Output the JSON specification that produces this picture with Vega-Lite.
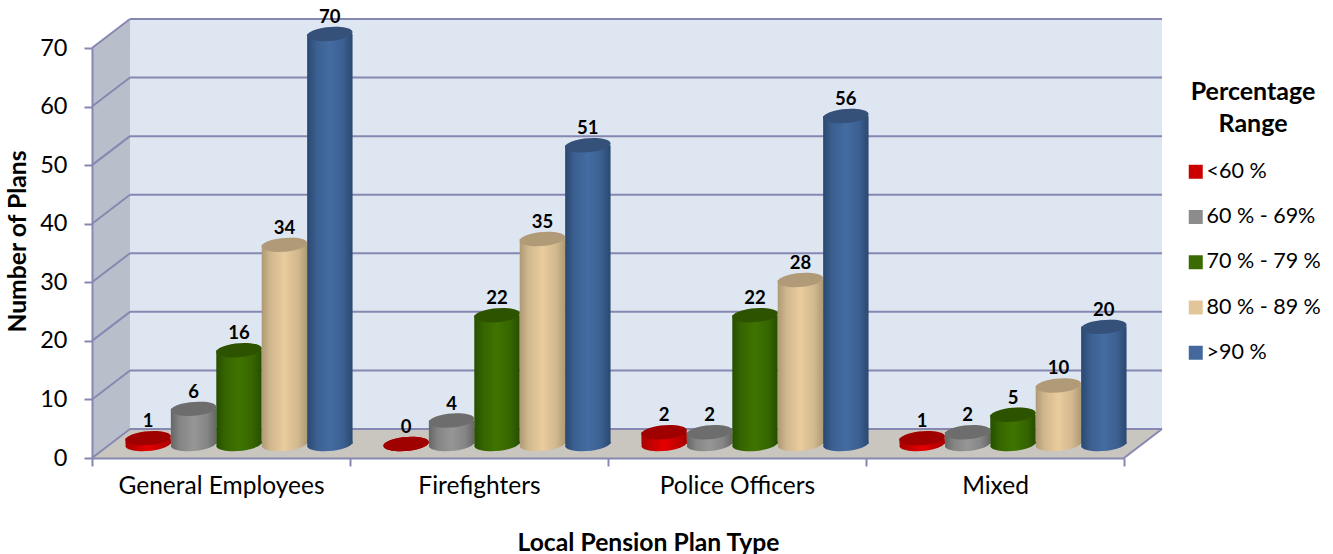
{
  "$schema": "https://vega.github.io/schema/vega-lite/v6.json",
  "width": 1032,
  "height": 410,
  "autosize": "none",
  "padding": {"left": 92, "top": 48, "right": 209, "bottom": 96},
  "background": "white",
  "config": {
    "font": "Lato",
    "view": {"stroke": null}
  },
  "data": {"name": "plans", "values": [
    {"type": "General Employees", "range": "<60 %", "count": 1},
    {"type": "General Employees", "range": "60 % - 69%", "count": 6},
    {"type": "General Employees", "range": "70 % - 79 %", "count": 16},
    {"type": "General Employees", "range": "80 % - 89 %", "count": 34},
    {"type": "General Employees", "range": ">90 %", "count": 70},
    {"type": "Firefighters", "range": "<60 %", "count": 0},
    {"type": "Firefighters", "range": "60 % - 69%", "count": 4},
    {"type": "Firefighters", "range": "70 % - 79 %", "count": 22},
    {"type": "Firefighters", "range": "80 % - 89 %", "count": 35},
    {"type": "Firefighters", "range": ">90 %", "count": 51},
    {"type": "Police Officers", "range": "<60 %", "count": 2},
    {"type": "Police Officers", "range": "60 % - 69%", "count": 2},
    {"type": "Police Officers", "range": "70 % - 79 %", "count": 22},
    {"type": "Police Officers", "range": "80 % - 89 %", "count": 28},
    {"type": "Police Officers", "range": ">90 %", "count": 56},
    {"type": "Mixed", "range": "<60 %", "count": 1},
    {"type": "Mixed", "range": "60 % - 69%", "count": 2},
    {"type": "Mixed", "range": "70 % - 79 %", "count": 5},
    {"type": "Mixed", "range": "80 % - 89 %", "count": 10},
    {"type": "Mixed", "range": ">90 %", "count": 20}
  ]},
  "layer": [
    {
      "description": "Box behind the cylinders: back wall, side wall, floor and grid",
      "encoding": {
        "x": {"type": "quantitative", "scale": {"domain": [0, 1], "nice": false, "zero": false}, "axis": null},
        "y": {
          "type": "quantitative",
          "scale": {"domain": [0, 70], "nice": false, "zero": false},
          "axis": {
            "title": "Number of Plans",
            "titleFont": "Lato",
            "titleFontWeight": "bold",
            "titleFontSize": 24.7,
            "titleColor": "#000000",
            "titleX": -62,
            "titleY": 193,
            "values": [0, 10, 20, 30, 40, 50, 60, 70],
            "grid": false,
            "labelFont": "Lato",
            "labelFontSize": 23.5,
            "labelColor": "#000000",
            "labelPadding": 17,
            "tickSize": 8,
            "tickWidth": 2,
            "tickColor": "#8688b2",
            "domainColor": "#8688b2",
            "domainWidth": 2,
            "zindex": 1
          }
        }
      },
      "layer": [
        {
          "data": {"values": [{"span": 0.0368, "floor": 4.95, "top": 74.95}, {"span": 1.0368, "floor": 4.95, "top": 74.95}]},
          "mark": {"type": "area", "fill": "#dee6f1", "opacity": 1},
          "encoding": {"x": {"field": "span"}, "y": {"field": "top"}, "y2": {"field": "floor"}}
        },
        {
          "data": {"values": [{"span": 0, "floor": 0, "top": 70}, {"span": 0.0368, "floor": 4.95, "top": 74.95}]},
          "mark": {"type": "area", "fill": "#b9bfca", "opacity": 1},
          "encoding": {"x": {"field": "span"}, "y": {"field": "top"}, "y2": {"field": "floor"}}
        },
        {
          "data": {"values": [
            {"span": 0, "floor": 0, "top": 0},
            {"span": 0.0368, "floor": 0, "top": 4.95},
            {"span": 1, "floor": 0, "top": 4.95},
            {"span": 1.0368, "floor": 4.95, "top": 4.95}
          ]},
          "mark": {"type": "area", "fill": "#c9c6bf", "opacity": 1},
          "encoding": {"x": {"field": "span"}, "y": {"field": "top"}, "y2": {"field": "floor"}}
        },
        {
          "data": {"values": [{"tick": 0}, {"tick": 10}, {"tick": 20}, {"tick": 30}, {"tick": 40}, {"tick": 50}, {"tick": 60}, {"tick": 70}]},
          "layer": [
            {
              "mark": {"type": "rule", "color": "#8688b2", "strokeWidth": 2, "xOffset": 38, "x2Offset": 38, "yOffset": -29},
              "encoding": {"x": {"datum": 0}, "x2": {"datum": 1}, "y": {"field": "tick"}}
            },
            {
              "mark": {"type": "rule", "color": "#8688b2", "strokeWidth": 2, "y2Offset": -29},
              "encoding": {"x": {"datum": 0}, "x2": {"datum": 0.0368}, "y": {"field": "tick"}, "y2": {"field": "tick"}}
            }
          ]
        },
        {
          "data": {"values": [{"tick": 0}]},
          "mark": {"type": "rule", "color": "#8688b2", "strokeWidth": 2, "y2Offset": -29},
          "encoding": {"x": {"datum": 1}, "x2": {"datum": 1.0368}, "y": {"field": "tick"}, "y2": {"field": "tick"}}
        }
      ]
    },
    {
      "description": "Cylinders with their value labels",
      "encoding": {
        "x": {
          "field": "type",
          "type": "nominal",
          "sort": ["General Employees", "Firefighters", "Police Officers", "Mixed"],
          "scale": {"paddingInner": 0, "paddingOuter": 0},
          "axis": {
            "title": "Local Pension Plan Type",
            "titleFont": "Lato",
            "titleFontWeight": "bold",
            "titleFontSize": 24.7,
            "titleColor": "#000000",
            "titleX": 556,
            "titleY": 72,
            "labelFont": "Lato",
            "labelFontSize": 24.5,
            "labelColor": "#000000",
            "labelAngle": 0,
            "labelPadding": 8,
            "labelLimit": 400,
            "tickBand": "extent",
            "tickSize": 8,
            "tickWidth": 2,
            "tickColor": "#8688b2",
            "domainColor": "#8688b2",
            "domainWidth": 2,
            "zindex": 1
          }
        },
        "xOffset": {
          "field": "range",
          "type": "nominal",
          "sort": ["<60 %", "60 % - 69%", "70 % - 79 %", "80 % - 89 %", ">90 %"],
          "scale": {"paddingInner": 0, "paddingOuter": 0.34, "range": [18, 276]}
        },
        "y": {"field": "count", "type": "quantitative"}
      },
      "layer": [
        {
          "mark": {"type": "bar", "yOffset": -14, "y2Offset": -14, "opacity": 1},
          "encoding": {
            "fill": {"field": "range", "type": "nominal", "legend": null, "scale": {
              "domain": [">90 %", "80 % - 89 %", "70 % - 79 %", "60 % - 69%", "<60 %"],
              "range": [
                {"expr": "{gradient:'linear',x1:0,y1:0,x2:1,y2:0,stops:[{offset:0,color:'#2a4870'},{offset:0.2,color:'#3b5f90'},{offset:0.5,color:'#446ca2'},{offset:0.8,color:'#3b5f90'},{offset:1,color:'#2a4870'}]}"},
                {"expr": "{gradient:'linear',x1:0,y1:0,x2:1,y2:0,stops:[{offset:0,color:'#ae9a76'},{offset:0.2,color:'#d2b88e'},{offset:0.5,color:'#e9cc9e'},{offset:0.8,color:'#d2b88e'},{offset:1,color:'#ae9a76'}]}"},
                {"expr": "{gradient:'linear',x1:0,y1:0,x2:1,y2:0,stops:[{offset:0,color:'#264f00'},{offset:0.2,color:'#366500'},{offset:0.5,color:'#3f7400'},{offset:0.8,color:'#366500'},{offset:1,color:'#264f00'}]}"},
                {"expr": "{gradient:'linear',x1:0,y1:0,x2:1,y2:0,stops:[{offset:0,color:'#666666'},{offset:0.2,color:'#858585'},{offset:0.5,color:'#969696'},{offset:0.8,color:'#858585'},{offset:1,color:'#666666'}]}"},
                {"expr": "{gradient:'linear',x1:0,y1:0,x2:1,y2:0,stops:[{offset:0,color:'#a80000'},{offset:0.5,color:'#e60000'},{offset:1,color:'#a80000'}]}"}
              ]
            }}
          }
        },
        {
          "mark": {"type": "point", "filled": true, "shape": "M -0.996 0.087 A 1 0.3 -5 1 1 0.996 -0.087 A 1 0.3 -5 1 1 -0.996 0.087 Z", "size": 2070, "opacity": 1, "strokeWidth": 0, "yOffset": -14},
          "encoding": {
            "y": {"datum": 0},
            "fill": {"field": "range", "type": "nominal", "legend": null}
          }
        },
        {
          "mark": {"type": "point", "filled": true, "shape": "M -0.996 0.087 A 1 0.3 -5 1 1 0.996 -0.087 A 1 0.3 -5 1 1 -0.996 0.087 Z", "size": 2070, "opacity": 1, "strokeWidth": 0, "yOffset": -14},
          "encoding": {
            "color": {
              "field": "range",
              "type": "nominal",
              "scale": {
                "domain": ["<60 %", "60 % - 69%", "70 % - 79 %", "80 % - 89 %", ">90 %"],
                "range": ["#cc0000", "#8c8c8c", "#3a6b00", "#e2c69a", "#44689c"]
              },
              "legend": {
                "orient": "none",
                "legendX": 1093,
                "legendY": 32,
                "title": ["Percentage", "Range"],
                "titleFont": "Lato",
                "titleFontWeight": "bold",
                "titleFontSize": 25,
                "titleLineHeight": 32,
                "titleColor": "#000000",
                "titleAnchor": "middle",
                "titleAlign": "center",
                "titlePadding": 24,
                "symbolType": "square",
                "symbolSize": 196,
                "symbolStrokeWidth": 0,
                "symbolOpacity": 1,
                "labelFont": "Lato",
                "labelFontSize": 21.5,
                "labelColor": "#000000",
                "labelOffset": 0,
                "labelLimit": 300,
                "rowPadding": 22.25
              }
            }
          }
        },
        {
          "mark": {"type": "point", "filled": true, "shape": "M -0.996 0.087 A 1 0.3 -5 1 1 0.996 -0.087 A 1 0.3 -5 1 1 -0.996 0.087 Z", "size": 2070, "opacity": 0.22, "strokeWidth": 0, "color": "#000000", "yOffset": -14}
        },
        {
          "mark": {"type": "text", "font": "Lato", "fontWeight": "bold", "fontSize": 18.5, "color": "#000000", "baseline": "middle", "align": "center", "yOffset": -14, "dy": -17},
          "encoding": {"text": {"field": "count", "type": "quantitative"}}
        }
      ]
    }
  ],
  "resolve": {"scale": {"x": "independent"}}
}
